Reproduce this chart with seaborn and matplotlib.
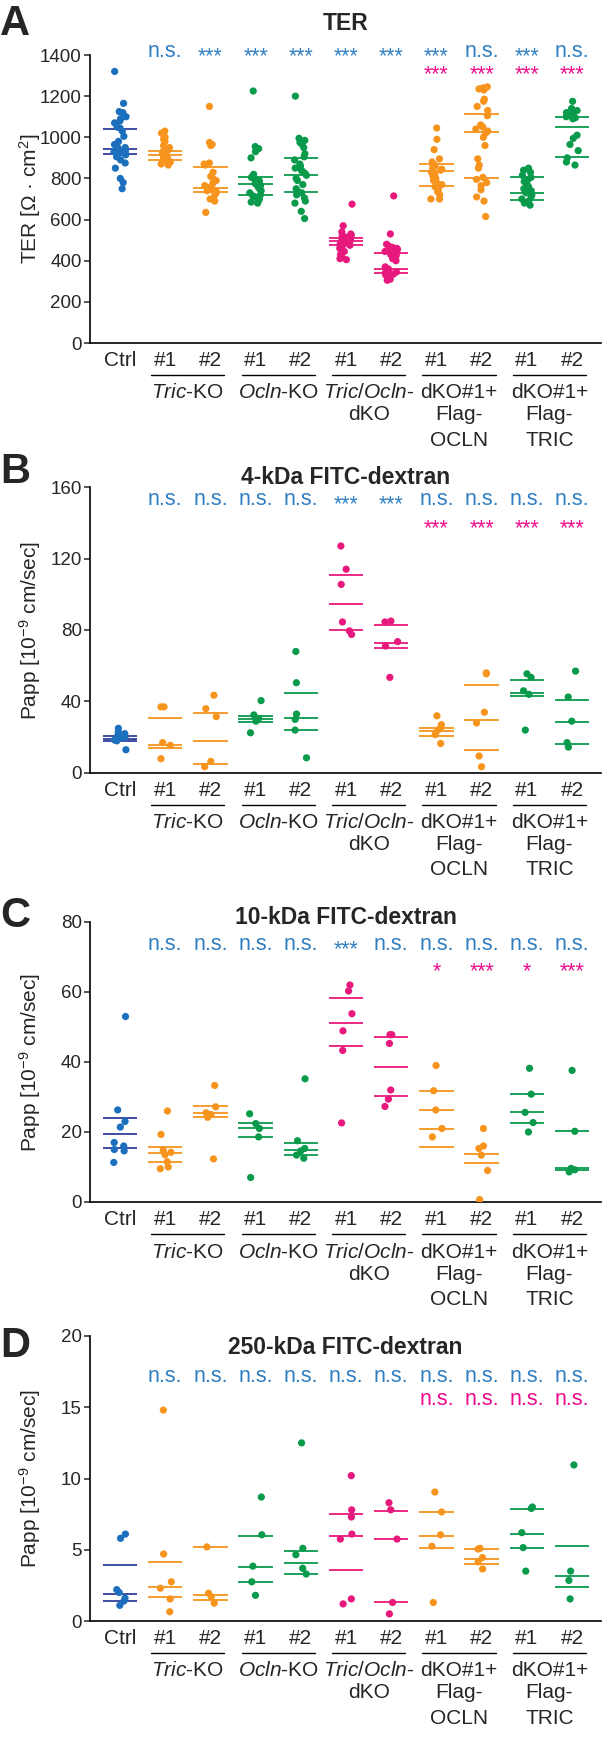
import numpy as np
import pandas as pd
import seaborn as sns
import matplotlib.pyplot as plt
from matplotlib.transforms import blended_transform_factory


# groups, left to right
groups = ["Ctrl", "Tric-KO #1", "Tric-KO #2", "Ocln-KO #1", "Ocln-KO #2",
          "dKO #1", "dKO #2", "Flag-OCLN #1", "Flag-OCLN #2",
          "Flag-TRIC #1", "Flag-TRIC #2"]
tick_labels = ["Ctrl", "#1", "#2", "#1", "#2", "#1", "#2", "#1", "#2", "#1", "#2"]
group_label_lines = [["$\\mathit{Tric}$-KO"], ["$\\mathit{Ocln}$-KO"],
                     ["$\\mathit{Tric/Ocln}$-", "dKO"],
                     ["dKO#1+", "Flag-", "OCLN"], ["dKO#1+", "Flag-", "TRIC"]]

BLUE, ORANGE, GREEN, PINK = "#1b6fbd", "#f7941d", "#0a9a4c", "#e8197c"
dot_colors = [BLUE, ORANGE, ORANGE, GREEN, GREEN, PINK, PINK, ORANGE, ORANGE, GREEN, GREEN]
line_colors = ["#2f3f9c"] + dot_colors[1:]
SIG_BLUE, SIG_PINK = "#2f7ec2", "#ec0b8c"

# A: TER
ter_points = [
    [1320, 1165, 1125, 1120, 1100, 1090, 1080, 1070, 1050, 1045, 1030, 1005, 980, 965,
     955, 950, 945, 940, 935, 930, 925, 915, 905, 890, 875, 850, 800, 780, 750],
    [1030, 1020, 1000, 990, 980, 960, 950, 940, 930, 925, 920, 915, 910, 905, 900,
     895, 890, 885, 880, 870, 865],
    [1150, 975, 965, 960, 875, 870, 865, 830, 810, 800, 790, 775, 765, 755, 745, 740,
     735, 730, 720, 700, 690, 635],
    [1225, 955, 945, 930, 900, 820, 815, 810, 805, 800, 795, 790, 785, 780, 775, 770,
     765, 760, 750, 740, 730, 720, 715, 710, 700, 690, 685, 680],
    [1200, 995, 985, 975, 965, 950, 920, 905, 890, 870, 860, 850, 840, 835, 825, 815,
     800, 790, 770, 750, 740, 730, 720, 705, 690, 680, 640, 605],
    [675, 570, 540, 530, 525, 520, 515, 510, 505, 500, 500, 495, 490, 485, 480, 478,
     475, 470, 460, 445, 430, 420, 410, 405],
    [715, 530, 480, 470, 465, 460, 455, 450, 445, 440, 435, 430, 425, 420, 410, 400,
     370, 360, 355, 350, 345, 340, 335, 330, 320, 310, 305],
    [1045, 990, 940, 895, 880, 870, 865, 860, 850, 845, 840, 830, 820, 810, 800, 790,
     780, 770, 760, 745, 735, 720, 700, 700],
    [1245, 1240, 1235, 1230, 1185, 1175, 1150, 1130, 1105, 1060, 1050, 1040, 1030,
     1020, 1000, 960, 895, 865, 850, 805, 795, 780, 765, 745, 710, 690, 615],
    [850, 840, 830, 815, 805, 795, 785, 770, 760, 750, 740, 730, 720, 710, 700, 690,
     680, 670],
    [1175, 1140, 1130, 1120, 1110, 1105, 1100, 1095, 1090, 1010, 995, 965, 935, 900,
     880, 865],
]
ter_lines = [[1040, 945, 920], [935, 915, 892], [855, 755, 735], [808, 775, 718],
             [898, 818, 733], [512, 497, 476], [436, 358, 340], [872, 835, 763],
             [1112, 1024, 800], [808, 730, 693], [1100, 1050, 906]]
ter_sig_ctrl = ["", "n.s.", "***", "***", "***", "***", "***", "***", "n.s.", "***", "n.s."]
ter_sig_dko = ["", "", "", "", "", "", "", "***", "***", "***", "***"]

# B: 4-kDa FITC-dextran
fd4_points = [
    [25, 23, 22, 21, 20, 19.5, 19, 18.5, 18, 13],
    [37, 37, 17, 15.5, 8],
    [43.5, 36, 31.5, 6.5, 3.5],
    [40.5, 32.5, 30.5, 29, 22.5],
    [68, 50.5, 33, 30, 24, 8.5],
    [127, 114, 105.5, 84.5, 79.5, 77.5],
    [85, 84.5, 73.5, 71, 53.5],
    [32, 27, 25, 24, 21.5, 16.5],
    [56, 55.5, 34, 28, 9.5, 3.5],
    [55.5, 53.5, 46, 44, 24],
    [57, 42.5, 29, 17, 14.5],
]
fd4_lines = [[20.5, 19.2, 17.8], [30.5, 15.5, 13.8], [33.5, 18, 5.2], [31.8, 30.2, 28.6],
             [45, 30.5, 24.2], [111, 94.5, 80], [83, 72.5, 69.8], [25, 23.6, 20.8],
             [49, 29.8, 12.6], [52, 44.7, 42.8], [41, 28.3, 16.4]]
fd4_sig_ctrl = ["", "n.s.", "n.s.", "n.s.", "n.s.", "***", "***", "n.s.", "n.s.", "n.s.", "n.s."]
fd4_sig_dko = ["", "", "", "", "", "", "", "***", "***", "***", "***"]

# C: 10-kDa FITC-dextran
fd10_points = [
    [53, 26.3, 23, 21.4, 17, 16, 15, 14.6, 11.3],
    [26, 19.3, 14.8, 14.2, 13.5, 11.5, 10, 9.5],
    [33.3, 27.2, 25.5, 25, 24.2, 12.3],
    [25.2, 22.4, 21, 18.6, 7],
    [35.2, 17.5, 15.3, 14.6, 13.4, 12.5],
    [62, 60.3, 53.8, 48.9, 43.3, 22.6],
    [47.8, 47.8, 45.3, 32, 29.4, 27.3],
    [39, 31.8, 26.3, 21, 18.6],
    [21, 16, 15.3, 13.4, 9, 0.7],
    [38.2, 30.8, 25.6, 22.7, 20],
    [37.6, 20.2, 9.6, 9.2, 8.6],
]
fd10_lines = [[23.9, 19.3, 15.3], [15.8, 14.1, 11.4], [27.5, 25.3, 24.4], [22.7, 21.2, 18.6],
              [17, 14.8, 13.4], [58.2, 51.2, 44.6], [47.2, 38.7, 30.2],
              [31.8, 26.3, 20.9, 15.8], [13.7, 11.2], [30.8, 25.6, 22.7], [20.2, 9.7, 9.1]]
fd10_sig_ctrl = ["", "n.s.", "n.s.", "n.s.", "n.s.", "***", "n.s.", "n.s.", "n.s.", "n.s.", "n.s."]
fd10_sig_dko = ["", "", "", "", "", "", "", "*", "***", "*", "***"]

# D: 250-kDa FITC-dextran
fd250_points = [
    [6.1, 5.8, 2.2, 2.0, 1.6, 1.4, 1.1],
    [14.8, 4.7, 2.75, 2.3, 1.55, 0.65],
    [5.2, 1.95, 1.7, 1.25],
    [8.7, 6.05, 3.85, 2.75, 1.8],
    [12.5, 5.1, 4.65, 3.7, 3.3],
    [10.2, 7.8, 7.3, 6.1, 5.75, 1.55, 1.2],
    [8.3, 7.8, 5.75, 1.3, 0.5],
    [9.05, 7.65, 6.05, 5.25, 1.3],
    [5.1, 5.05, 4.45, 4.15, 3.65],
    [8.0, 7.9, 6.2, 5.15, 3.5],
    [10.95, 3.5, 2.85, 1.55],
]
fd250_lines = [[3.9, 1.9, 1.4], [4.15, 2.4, 1.7], [5.2, 1.85, 1.5], [6.0, 3.8, 2.75],
               [4.93, 4.1, 3.33], [7.48, 5.96, 3.6], [7.75, 5.75, 1.3], [7.68, 5.96, 5.14],
               [5.02, 4.37, 3.98], [7.86, 6.08, 5.1], [5.28, 3.18, 2.4]]
fd250_sig_ctrl = ["", "n.s.", "n.s.", "n.s.", "n.s.", "n.s.", "n.s.", "n.s.", "n.s.", "n.s.", "n.s."]
fd250_sig_dko = ["", "", "", "", "", "", "", "n.s.", "n.s.", "n.s.", "n.s."]

papp_label = "Papp [10$^{-9}$ cm/sec]"

sns.set_style("ticks")
plt.rcParams["font.family"] = ["Liberation Sans", "DejaVu Sans"]
plt.rcParams["mathtext.fontset"] = "custom"
plt.rcParams["mathtext.rm"] = "Liberation Sans"
plt.rcParams["mathtext.it"] = "Liberation Sans:italic"
plt.rcParams["mathtext.bf"] = "Liberation Sans:bold"

W, H = 603, 1738
fig = plt.figure(figsize=(W / 100, H / 100), dpi=100)

# layout in pixels: axes top/bottom, title, sig rows, panel letter
panels = [
    dict(letter="A", title="TER", ylabel="TER [Ω · cm$^2$]", pts=ter_points, lines=ter_lines,
         s1=ter_sig_ctrl, s2=ter_sig_dko, ymax=1400, step=200, top=55, bot=343,
         ty=23, r1=52, r2=70, ly=24),
    dict(letter="B", title="4-kDa FITC-dextran", ylabel=papp_label, pts=fd4_points,
         lines=fd4_lines, s1=fd4_sig_ctrl, s2=fd4_sig_dko, ymax=160, step=40, top=487,
         bot=773, ty=478, r1=500, r2=524, ly=472),
    dict(letter="C", title="10-kDa FITC-dextran", ylabel=papp_label, pts=fd10_points,
         lines=fd10_lines, s1=fd10_sig_ctrl, s2=fd10_sig_dko, ymax=80, step=20, top=922,
         bot=1202, ty=917, r1=945, r2=967, ly=916),
    dict(letter="D", title="250-kDa FITC-dextran", ylabel=papp_label, pts=fd250_points,
         lines=fd250_lines, s1=fd250_sig_ctrl, s2=fd250_sig_dko, ymax=20, step=5, top=1336,
         bot=1621, ty=1348, r1=1377, r2=1400, ly=1346),
]

AX_L, AX_R = 90, 601
palette = dict(zip(groups, dot_colors))
np.random.seed(7)

for p in panels:
    h = p["bot"] - p["top"]
    ax = fig.add_axes([AX_L / W, 1 - p["bot"] / H, (AX_R - AX_L) / W, h / H])
    df = pd.DataFrame({
        "group": np.repeat(groups, [len(v) for v in p["pts"]]),
        "value": np.concatenate(p["pts"]),
    })
    sns.stripplot(data=df, x="group", y="value", hue="group", order=groups,
                  hue_order=groups, palette=palette, jitter=0.14, size=5.2,
                  linewidth=0, legend=False, ax=ax, zorder=3)
    for i, (vals, c) in enumerate(zip(p["lines"], line_colors)):
        ax.hlines(vals, i - 0.38, i + 0.38, color=c, lw=1.3, zorder=2)

    ax.set_xlim(-0.664, 10.64)
    ax.set_ylim(0, p["ymax"])
    ax.set_yticks(np.arange(0, p["ymax"] + 1, p["step"]))
    ax.set_xticks(range(len(groups)))
    ax.set_xticklabels(tick_labels, fontsize=15)
    ax.tick_params(axis="x", length=0, pad=6)
    ax.tick_params(axis="y", length=4, width=1.1, labelsize=13.5, pad=2)
    sns.despine(ax=ax)
    for s in ["left", "bottom"]:
        ax.spines[s].set_linewidth(1.2)
        ax.spines[s].set_color("black")
    ax.set_xlabel("")
    ax.set_ylabel(p["ylabel"], fontsize=15)
    ax.yaxis.set_label_coords(-0.092, 0.5)

    # group underlines and names under the tick labels
    xt = ax.get_xaxis_transform()
    for g, name_lines in enumerate(group_label_lines):
        i0 = 1 + 2 * g
        ax.plot([i0 - 0.31, i0 + 1.31], [-32 / h, -32 / h], transform=xt,
                color="black", lw=1.0, clip_on=False)
        for k, txt in enumerate(name_lines):
            off = [50, 72, 97][k]
            ax.text(i0 + 0.5, -off / h, txt, transform=xt, ha="center",
                    va="center", fontsize=15)

    # significance rows
    bt = blended_transform_factory(ax.transData, fig.transFigure)
    for row, labels, color in [(p["r1"], p["s1"], SIG_BLUE), (p["r2"], p["s2"], SIG_PINK)]:
        for i, lab in enumerate(labels):
            if not lab:
                continue
            shift = 5 if lab == "n.s." else 10
            ax.text(i, 1 - (row + shift) / H, lab, transform=bt, ha="center",
                    va="baseline", fontsize=15.5, color=color)

    at = blended_transform_factory(ax.transAxes, fig.transFigure)
    ax.text(0.5, 1 - p["ty"] / H, p["title"], transform=at, ha="center",
            va="center", fontsize=16.5, fontweight="bold")
    fig.text(0, 1 - p["ly"] / H, p["letter"], ha="left", va="center",
             fontsize=30, fontweight="bold")

fig.savefig("out.png", dpi=100)
